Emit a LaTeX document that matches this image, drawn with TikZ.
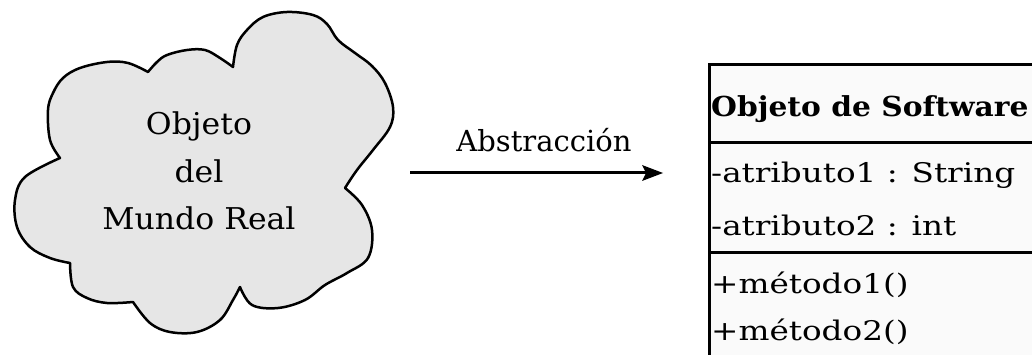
\documentclass[tikz,border=0pt]{standalone}
\usepackage{fontspec}
\setmainfont{DejaVu Serif}
\newfontfamily\clsfont[FakeStretch=1.21]{DejaVu Serif}
\newfontfamily\titlefont[FakeStretch=1.08]{DejaVu Serif}
\newfontfamily\cloudfont[FakeStretch=1.05]{DejaVu Serif}
\usetikzlibrary{arrows.meta}
\definecolor{cloudfill}{HTML}{E6E6E6}
\definecolor{boxfill}{HTML}{FAFAFA}
\tikzset{
  txt/.style={inner sep=0pt, font=\fontsize{29}{47.5}\selectfont},
  clstxt/.style={inner sep=0pt, anchor=base west, font=\clsfont\fontsize{27}{32}\selectfont},
  clsline/.style={line width=3pt},
  cloudline/.style={line width=2.5pt, line join=round},
  abstr/.style={line width=3pt},
  abstrhead/.style={fill=black},
}
\begin{document}
\begin{tikzpicture}[x=1pt,y=-1pt]
\useasboundingbox (0,0) rectangle (1032,355);
% cloud outline
\filldraw[cloudline, fill=cloudfill]
  (60,158)
  -- plot[smooth, tension=0.6] coordinates {(60,158) (25,177) (15,200) (17,227) (30,247) (50,258) (70,263)}
  -- plot[smooth, tension=0.6] coordinates {(70,263) (73,287) (87,298) (107,303) (133,302)}
  -- plot[smooth, tension=0.6] coordinates {(133,302) (150,323) (170,332) (197,332) (220,320) (233,300) (240,287)}
  -- plot[smooth, tension=0.6] coordinates {(240,287) (252,305) (278,308) (305,300) (325,285) (347,273) (368,258) (372,230) (362,205) (345,188)}
  -- plot[smooth, tension=0.6] coordinates {(345,188) (357,170) (373,150) (390,127) (393,107) (385,83) (372,66) (355,53) (338,40) (327,24) (313,15) (287,12) (263,17) (247,30) (237,45) (233,67)}
  -- plot[smooth, tension=0.6] coordinates {(233,67) (220,58) (205,50) (187,50) (167,55) (157,62) (148,72)}
  -- plot[smooth, tension=0.6] coordinates {(148,72) (128,63) (107,62) (80,68) (63,78) (53,93) (48,110) (50,140) (60,158)}
  -- cycle;
\node[minimum width=378pt, minimum height=322pt, inner sep=0pt] (cloud) at (204,173) {};
\node[txt, align=center, font=\cloudfont\fontsize{30}{47.5}\selectfont] (cloudtext) at (199,171) {Objeto\\del\\Mundo Real};
% class box
\node[minimum width=323pt, minimum height=290pt, inner sep=0pt, anchor=north west, fill=boxfill] (cls) at (709,65) {};
\draw[clsline] (cls.south west) -- (cls.north west) -- (cls.north east);
\coordinate (sep1) at (709,143);
\coordinate (sep2) at (709,252);
\draw[clsline] (sep1) -- (sep1 -| cls.east);
\draw[clsline] (sep2) -- (sep2 -| cls.east);
\node[inner sep=0pt, anchor=base west, font=\titlefont\fontsize{27.5}{32}\selectfont\bfseries] (title) at (711,117) {Objeto de Software};
\node[clstxt] (attr1) at (711,183) {-atributo1 : String};
\node[clstxt] (attr2) at (711,236) {-atributo2 : int};
\node[clstxt] (meth1) at (711,293) {+método1()};
\node[clstxt] (meth2) at (711,340) {+método2()};
% arrow
\coordinate (astart) at ([xshift=17pt]cloud.east);
\coordinate (aend) at ([xshift=-46pt]cloud.east -| cls.west);
\draw[abstr] (astart) -- ([xshift=-14pt]aend);
\fill[abstrhead] (aend) -- ([xshift=-21pt,yshift=8pt]aend) -- ([xshift=-17pt]aend) -- ([xshift=-21pt,yshift=-8pt]aend) -- cycle;
\node[txt, anchor=base] (abs) at (544,152) {Abstracción};
\end{tikzpicture}
\end{document}
